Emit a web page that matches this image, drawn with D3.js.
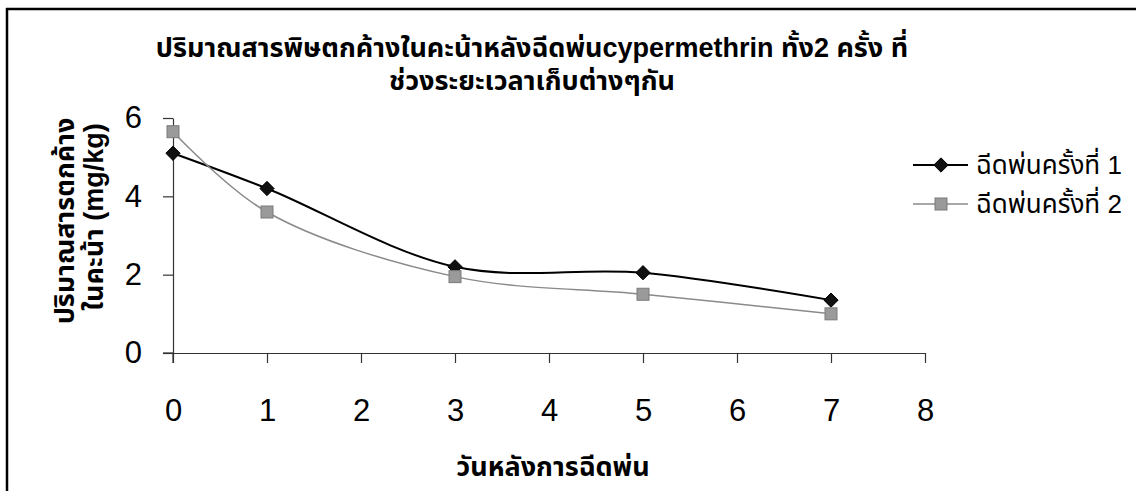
<!DOCTYPE html>
<html>
<head>
<meta charset="utf-8">
<script src="https://cdn.jsdelivr.net/npm/d3@7"></script>
<style>
  html, body { margin: 0; padding: 0; background: #fff; }
  svg { display: block; font-family: "Liberation Sans", Arial, "Noto Sans Thai", sans-serif; }
</style>
</head>
<body>
<svg id="chart" width="1136" height="491"></svg>
<script>
// Residue data: days after spraying vs residue (mg/kg) for the two sprays
const days = [0, 1, 3, 5, 7];
const spray1 = [5.1, 4.2, 2.2, 2.05, 1.35];
const spray2 = [5.65, 3.6, 1.95, 1.5, 1.0];
const seriesNames = ["ฉีดพ่นครั้งที่ 1", "ฉีดพ่นครั้งที่ 2"];
const xTicks = [0, 1, 2, 3, 4, 5, 6, 7, 8];
const yTicks = [0, 2, 4, 6];
const titleLines = ["ปริมาณสารพิษตกค้างในคะน้าหลังฉีดพ่นcypermethrin ทั้ง2 ครั้ง ที่", "ช่วงระยะเวลาเก็บต่างๆกัน"];
const yTitleLines = ["ปริมาณสารตกค้าง", "ในคะน้า (mg/kg)"];
const xTitle = "วันหลังการฉีดพ่น";

const svg = d3.select("#chart");
const W = 1136, H = 491;

// frame: top and left border lines
svg.append("line").attr("x1", 6).attr("x2", W).attr("y1", 9).attr("y2", 9)
  .attr("stroke", "#000").attr("stroke-width", 2.5);
svg.append("line").attr("x1", 7).attr("x2", 7).attr("y1", 8).attr("y2", H)
  .attr("stroke", "#000").attr("stroke-width", 2.5);

const x = d3.scaleLinear().domain([0, 8]).range([173, 925]);
const y = d3.scaleLinear().domain([0, 6]).range([353, 118]);

// title
svg.append("text").attr("text-anchor", "middle")
  .attr("font-size", 27).attr("font-weight", "bold")
  .selectAll("tspan").data(titleLines).join("tspan")
  .attr("x", 532).attr("y", (d, i) => 57 + i * 33).text(d => d);

// axes
const xAxis = svg.append("g").attr("transform", `translate(0,${y(0)})`)
  .call(d3.axisBottom(x).tickValues(xTicks).tickSize(10).tickSizeOuter(0).tickPadding(36));
const yAxis = svg.append("g").attr("transform", `translate(${x(0)},0)`)
  .call(d3.axisLeft(y).tickValues(yTicks).tickFormat(d3.format("d")).tickSize(10).tickSizeOuter(0).tickPadding(21));
[xAxis, yAxis].forEach(g => {
  g.select(".domain").attr("stroke", "#333").attr("stroke-width", 1.2);
  g.selectAll(".tick line").attr("stroke", "#333").attr("stroke-width", 1.2);
  g.selectAll(".tick text").attr("font-size", 31).attr("fill", "#000")
    .attr("font-family", "'Liberation Sans', Arial, sans-serif");
});
// y axis extends past the x axis like a tick
svg.append("line").attr("x1", x(0)).attr("x2", x(0)).attr("y1", y(0)).attr("y2", y(0) + 10)
  .attr("stroke", "#333").attr("stroke-width", 1.2);
svg.append("line").attr("x1", x(0) - 10).attr("x2", x(0)).attr("y1", y(0)).attr("y2", y(0))
  .attr("stroke", "#333").attr("stroke-width", 1.2);

// axis titles
svg.append("text").attr("x", 553).attr("y", 476).attr("text-anchor", "middle")
  .attr("font-size", 27).attr("font-weight", "bold").text(xTitle);
const yt = svg.append("text").attr("transform", "translate(74,221) rotate(-90)")
  .attr("text-anchor", "middle").attr("font-size", 27).attr("font-weight", "bold");
yt.selectAll("tspan").data(yTitleLines).join("tspan")
  .attr("x", (d, i) => i ? 4 : 0).attr("y", (d, i) => i * 29).text(d => d);

// series
const series = [
  { name: seriesNames[0], values: spray1, color: "#000", width: 2, shape: "diamond" },
  { name: seriesNames[1], values: spray2, color: "#8a8a8a", width: 1.5, shape: "square" }
];
const line = d3.line().x(d => x(d[0])).y(d => y(d[1])).curve(d3.curveCatmullRom.alpha(0.5));

function marker(g, shape, cx, cy) {
  if (shape === "diamond") {
    g.append("path").attr("d", d3.symbol(d3.symbolDiamond2, 130)())
      .attr("transform", `translate(${cx},${cy})`)
      .attr("fill", "#111").attr("stroke", "#000").attr("stroke-width", 1);
  } else {
    g.append("rect").attr("x", cx - 6).attr("y", cy - 6).attr("width", 12).attr("height", 12)
      .attr("fill", "#9a9a9a").attr("stroke", "#7a7a7a").attr("stroke-width", 1);
  }
}

series.forEach(s => {
  const pts = days.map((d, i) => [d, s.values[i]]);
  const g = svg.append("g");
  g.append("path").attr("d", line(pts)).attr("fill", "none")
    .attr("stroke", s.color).attr("stroke-width", s.width);
  pts.forEach(p => marker(g, s.shape, x(p[0]), y(p[1])));
});

// legend
series.forEach((s, i) => {
  const ly = 165 + i * 39;
  const g = svg.append("g");
  g.append("line").attr("x1", 913).attr("x2", 968).attr("y1", ly).attr("y2", ly)
    .attr("stroke", s.color).attr("stroke-width", s.width);
  marker(g, s.shape, 941, ly);
  g.append("text").attr("x", 976).attr("y", ly + 9).attr("font-size", 26)
    .text(s.name);
});
</script>
</body>
</html>
